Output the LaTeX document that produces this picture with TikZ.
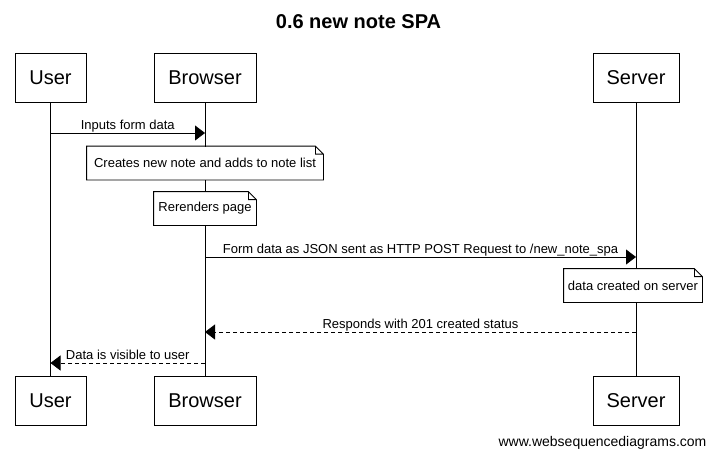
\documentclass[tikz,border=0pt]{standalone}
\usepackage{fontspec}
\setmainfont{Liberation Sans}
\usetikzlibrary{arrows.meta}

\begin{document}
\begin{tikzpicture}[x=1pt, y=-1pt, line width=0.8pt, >={Triangle[length=10pt,width=15pt]},
		actor/.style={draw, minimum height=49pt, inner sep=0pt, font=\fontsize{20}{24}\selectfont},
		memo/.style={fill=white, minimum height=33pt, inner sep=0pt, font=\fontsize{13}{15}\selectfont},
		msg/.style={midway, anchor=base, yshift=3.5pt, font=\fontsize{13}{15}\selectfont},
		reply/.style={->, dash pattern=on 4pt off 3pt}]
				\def\fold{8pt}
				\useasboundingbox (0,0) rectangle (717,459);
				\node[font=\bfseries\fontsize{20}{24}\selectfont] (title) at (358.5,22) {0.6 new note SPA};
				\node[actor, minimum width=71pt] (usertop) at (50.5,77.5) {User};
				\node[actor, minimum width=102pt] (browsertop) at (205,77.5) {Browser};
				\node[actor, minimum width=86pt] (servertop) at (636,77.5) {Server};
				\node[actor, minimum width=71pt] (userbot) at (50.5,401) {User};
				\node[actor, minimum width=102pt] (browserbot) at (205,401) {Browser};
				\node[actor, minimum width=86pt] (serverbot) at (636,401) {Server};
				\foreach \a in {user,browser,server}\draw (\a top.south)--(\a bot.north);
				\draw[->] (usertop.south |- 0,133)--(browsertop.south |- 0,133) node[msg] {Inputs form data};
				\node[memo, minimum width=236pt] (note1) at (205,163) {Creates new note and adds to note list};
				\node[memo, minimum width=102pt] (note2) at (205,208.5) {Rerenders page};
				\draw[->] (browsertop.south |- 0,257)--(servertop.south |- 0,257) node[msg] {Form data as JSON sent as HTTP POST Request to /new\_note\_spa};
				\node[memo, minimum width=138pt] (note3) at (633,285.5) {data created on server};
				\foreach \n in {note1,note2,note3}\draw (\n.north west)--([xshift=-\fold]\n.north east)--([yshift=-\fold]\n.north east)--(\n.south east)--(\n.south west)--cycle
					([xshift=-\fold]\n.north east)--([xshift=-\fold,yshift=-\fold]\n.north east)--([yshift=-\fold]\n.north east);
				\draw[reply] (servertop.south |- 0,332)--(browsertop.south |- 0,332) node[msg] {Responds with 201 created status};
				\draw[reply] (browsertop.south |- 0,363)--(usertop.south |- 0,363) node[msg] {Data is visible to user};
				\node[font=\fontsize{14}{17}\selectfont] (footer) at (602.5,443) {www.websequencediagrams.com};
		\end{tikzpicture}
\end{document}
